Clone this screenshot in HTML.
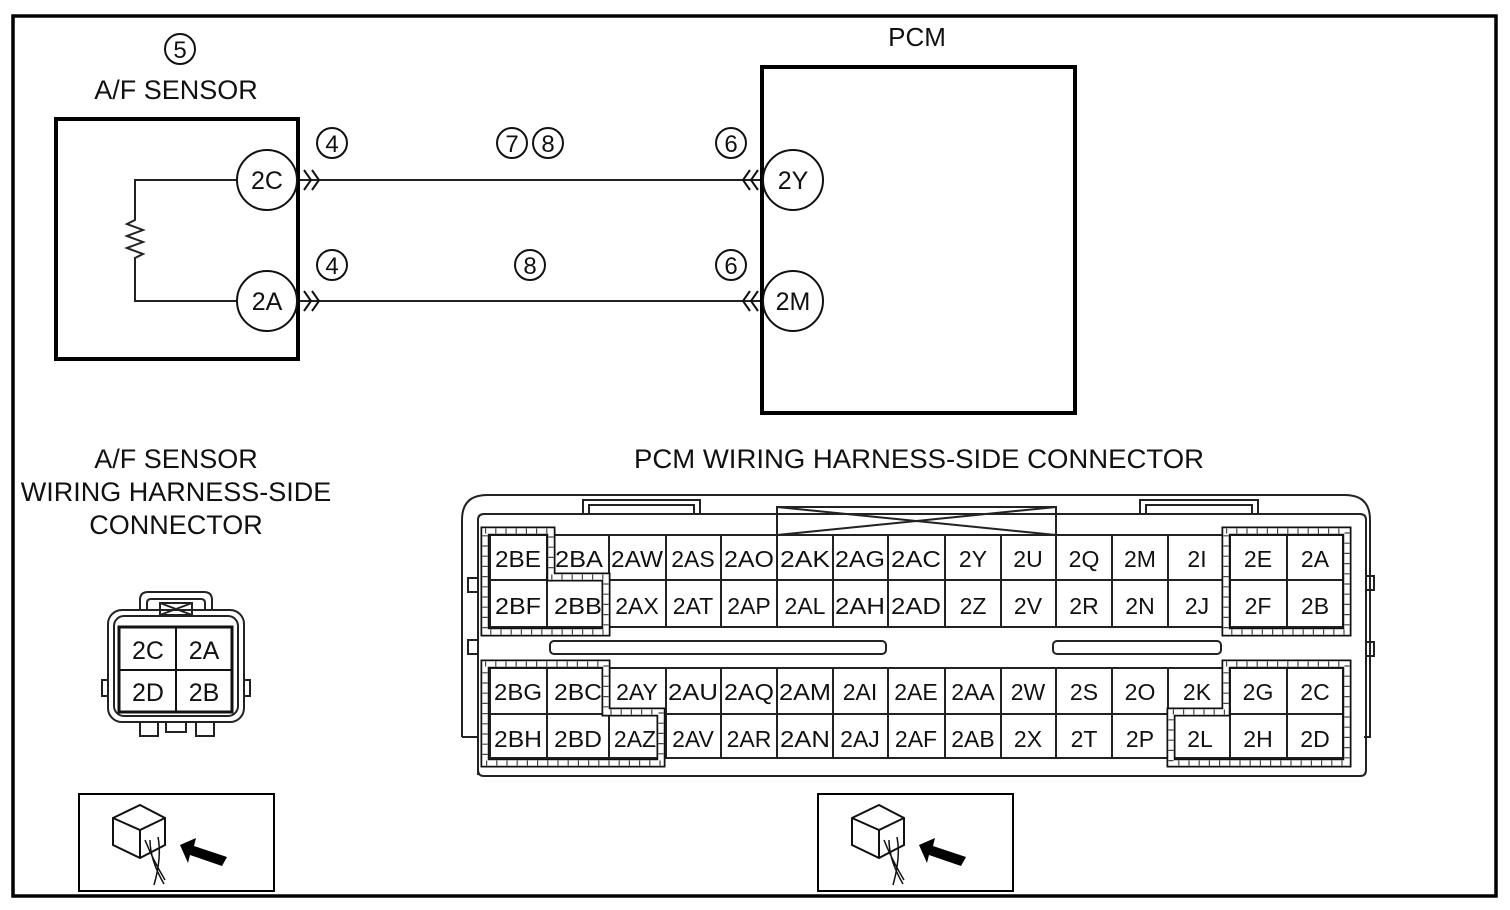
<!DOCTYPE html>
<html><head><meta charset="utf-8"><style>
html,body{margin:0;padding:0;background:#fff;}
svg{display:block;}
text{font-family:"Liberation Sans",sans-serif;fill:#111;}
</style></head><body>
<svg width="1510" height="910" viewBox="0 0 1510 910" xmlns="http://www.w3.org/2000/svg">
<rect x="13" y="16" width="1483" height="880" fill="none" stroke="#000" stroke-width="3.5"/>

<!-- A/F sensor -->
<circle cx="180" cy="49" r="15" fill="none" stroke="#111" stroke-width="2"/>
<text x="180" y="58" font-size="24" text-anchor="middle">5</text>
<text x="176" y="99" font-size="27" text-anchor="middle">A/F SENSOR</text>
<rect x="56" y="119" width="242" height="240" fill="none" stroke="#000" stroke-width="4"/>
<path d="M236 180 H135 V220 l-8 4 l16 6 l-16 6 l16 6 l-16 6 l16 6 l-8 4 V301 H236" fill="none" stroke="#222" stroke-width="2"/>
<circle cx="267" cy="180" r="30" fill="#fff" stroke="#111" stroke-width="2"/>
<text x="267" y="189" font-size="25" text-anchor="middle">2C</text>
<circle cx="267" cy="301" r="30" fill="#fff" stroke="#111" stroke-width="2"/>
<text x="267" y="310" font-size="25" text-anchor="middle">2A</text>

<!-- wires -->
<line x1="300" y1="180" x2="762" y2="180" stroke="#222" stroke-width="2"/>
<line x1="300" y1="301" x2="762" y2="301" stroke="#222" stroke-width="2"/>
<path d="M304 170 l7 10 l-7 10 M312 170 l7 10 l-7 10 M304 291 l7 10 l-7 10 M312 291 l7 10 l-7 10" fill="none" stroke="#111" stroke-width="2"/>
<path d="M758 170 l-7 10 l7 10 M750 170 l-7 10 l7 10 M758 291 l-7 10 l7 10 M750 291 l-7 10 l7 10" fill="none" stroke="#111" stroke-width="2"/>

<g fill="none" stroke="#111" stroke-width="2">
<circle cx="332" cy="143" r="15"/><circle cx="332" cy="265" r="15"/>
<circle cx="512" cy="143" r="15"/><circle cx="548" cy="143" r="15"/>
<circle cx="530" cy="265" r="15"/>
<circle cx="731" cy="143" r="15"/><circle cx="731" cy="265" r="15"/>
</g>
<g font-size="24" text-anchor="middle">
<text x="332" y="152">4</text><text x="332" y="274">4</text>
<text x="512" y="152">7</text><text x="548" y="152">8</text>
<text x="530" y="274">8</text>
<text x="731" y="152">6</text><text x="731" y="274">6</text>
</g>

<!-- PCM -->
<text x="917" y="46" font-size="26" text-anchor="middle">PCM</text>
<rect x="762" y="67" width="313" height="346" fill="none" stroke="#000" stroke-width="4"/>
<circle cx="793" cy="180" r="30" fill="#fff" stroke="#111" stroke-width="2"/>
<text x="793" y="189" font-size="25" text-anchor="middle">2Y</text>
<circle cx="793" cy="301" r="30" fill="#fff" stroke="#111" stroke-width="2"/>
<text x="793" y="310" font-size="25" text-anchor="middle">2M</text>

<!-- headings -->
<g font-size="27" text-anchor="middle">
<text x="176" y="468">A/F SENSOR</text>
<text x="176" y="501">WIRING HARNESS-SIDE</text>
<text x="176" y="534">CONNECTOR</text>
<text x="919" y="468" textLength="570" lengthAdjust="spacingAndGlyphs">PCM WIRING HARNESS-SIDE CONNECTOR</text>
</g>

<!-- small connector -->
<g fill="none" stroke="#222" stroke-width="2">
<path d="M140 610 V600 q0-8 8-8 H204 q8 0 8 8 V610"/>
<path d="M147 610 V603 q0-4 4-4 H201 q4 0 4 4 V610"/>
<rect x="108" y="610" width="136" height="112" rx="14"/>
<rect x="114" y="616" width="124" height="100" rx="10"/>
<path d="M108 680 h-6 v16 h6 M244 680 h6 v16 h-6"/>
<rect x="160" y="603" width="32" height="12"/>
<path d="M160 603 L192 615 M192 603 L160 615"/>
<path d="M140 722 v14 h18 v-14 M166 722 v10 h20 v-10 M196 722 v14 h18 v-14"/>
</g>
<rect x="119" y="627" width="113" height="85" fill="#fff" stroke="#111" stroke-width="3"/>
<line x1="176" y1="627" x2="176" y2="712" stroke="#111" stroke-width="2"/>
<line x1="119" y1="670" x2="232" y2="670" stroke="#111" stroke-width="2"/>
<g font-size="25" text-anchor="middle">
<text x="148" y="659">2C</text><text x="204" y="659">2A</text>
<text x="148" y="701">2D</text><text x="204" y="701">2B</text>
</g>

<!-- icon boxes -->
<g id="ic">
<rect x="79" y="794" width="195" height="97" fill="none" stroke="#000" stroke-width="2"/>
<path d="M113 818 L140 805 L165 818 L165 845 L140 858 L113 845 Z M113 818 L140 830 L165 818 M140 830 V858" fill="#fff" stroke="#111" stroke-width="2"/>
<path d="M145 840 q8 20 20 40 M150 840 q0 20 14 44 M158 837 q4 20 -4 48" fill="none" stroke="#111" stroke-width="1.5"/>
<path d="M180 845 L196 838 L194 846 L227 857 L222 866 L190 855 L188 863 Z" fill="#000"/>
</g>
<use href="#ic" x="739" y="0"/>

<!-- PCM connector housing -->
<g fill="none" stroke="#222" stroke-width="2">
<path d="M462 737 V520 q0-25 25-25 H1345 q25 0 25 25 V737 h-6"/>
<path d="M478 775 V520 q0-6 6-6 H1360 q6 0 6 6 V770 q0 6 -6 6 H484 q-6 0-6-6"/>
<path d="M462 737 h16"/>
<path d="M583 514 V500 H700 V514 M589 514 V505 H694 V514"/>
<path d="M1140 514 V500 H1258 V514 M1146 514 V505 H1252 V514"/>
<path d="M777 535 V507 H1056 V535 M777 507 L1056 535 M1056 507 L777 535"/>
<path d="M478 578 h-10 v14 h10 M478 640 h-10 v14 h10 M1366 576 h8 v14 h-8 M1366 642 h8 v14 h-8"/>
<rect x="550" y="641" width="336" height="13" rx="4"/>
<rect x="1053" y="641" width="168" height="13" rx="4"/>
</g>

<!-- grid -->
<g stroke="#222" stroke-width="2" fill="none">
<rect x="490" y="535" width="853" height="92"/>
<line x1="490" y1="580" x2="1343" y2="580"/>
<rect x="490" y="668" width="853" height="90"/>
<line x1="490" y1="714" x2="1343" y2="714"/>
<path d="M547 535V627 M609 535V627 M666 535V627 M721 535V627 M777 535V627 M833 535V627 M888 535V627 M945 535V627 M1001 535V627 M1056 535V627 M1112 535V627 M1168 535V627 M1230 535V627 M1287 535V627"/>
<path d="M547 668V758 M609 668V758 M666 668V758 M721 668V758 M777 668V758 M833 668V758 M888 668V758 M945 668V758 M1001 668V758 M1056 668V758 M1112 668V758 M1168 668V758 M1230 668V758 M1287 668V758"/>
</g>

<!-- hatched regions -->
<g fill="none" stroke-linejoin="miter">
<g stroke="#111" stroke-width="9">
<path d="M485 531 H551 V577 H606 V632 H485 Z"/>
<path d="M1226 531 H1347 V632 H1226 Z"/>
<path d="M485 664 H606 V712 H661 V763 H485 Z"/>
<path d="M1226 664 H1347 V763 H1171 V712 H1226 Z"/>
</g>
<g stroke="#fff" stroke-width="5.5">
<path d="M485 531 H551 V577 H606 V632 H485 Z"/>
<path d="M1226 531 H1347 V632 H1226 Z"/>
<path d="M485 664 H606 V712 H661 V763 H485 Z"/>
<path d="M1226 664 H1347 V763 H1171 V712 H1226 Z"/>
</g>
<g stroke="#444" stroke-width="5" stroke-dasharray="1.2 9">
<path d="M485 531 H551 V577 H606 V632 H485 Z"/>
<path d="M1226 531 H1347 V632 H1226 Z"/>
<path d="M485 664 H606 V712 H661 V763 H485 Z"/>
<path d="M1226 664 H1347 V763 H1171 V712 H1226 Z"/>
</g>
</g>

<!-- cell labels -->
<g font-size="23" text-anchor="middle">
<text x="518" y="567" textLength="46" lengthAdjust="spacingAndGlyphs">2BE</text><text x="579" y="567" textLength="48" lengthAdjust="spacingAndGlyphs">2BA</text><text x="637" y="567" textLength="52" lengthAdjust="spacingAndGlyphs">2AW</text><text x="693" y="567">2AS</text><text x="749" y="567" textLength="50" lengthAdjust="spacingAndGlyphs">2AO</text><text x="805" y="567" textLength="50" lengthAdjust="spacingAndGlyphs">2AK</text><text x="860" y="567" textLength="50" lengthAdjust="spacingAndGlyphs">2AG</text><text x="916" y="567" textLength="50" lengthAdjust="spacingAndGlyphs">2AC</text><text x="973" y="567">2Y</text><text x="1028" y="567">2U</text><text x="1084" y="567">2Q</text><text x="1140" y="567">2M</text><text x="1197" y="567">2I</text><text x="1258" y="567">2E</text><text x="1315" y="567">2A</text>
<text x="518" y="614" textLength="46" lengthAdjust="spacingAndGlyphs">2BF</text><text x="578" y="614" textLength="48" lengthAdjust="spacingAndGlyphs">2BB</text><text x="637" y="614">2AX</text><text x="693" y="614">2AT</text><text x="749" y="614">2AP</text><text x="805" y="614">2AL</text><text x="860" y="614" textLength="50" lengthAdjust="spacingAndGlyphs">2AH</text><text x="916" y="614" textLength="50" lengthAdjust="spacingAndGlyphs">2AD</text><text x="973" y="614">2Z</text><text x="1028" y="614">2V</text><text x="1084" y="614">2R</text><text x="1140" y="614">2N</text><text x="1197" y="614">2J</text><text x="1258" y="614">2F</text><text x="1315" y="614">2B</text>
<text x="518" y="700" textLength="48" lengthAdjust="spacingAndGlyphs">2BG</text><text x="578" y="700" textLength="48" lengthAdjust="spacingAndGlyphs">2BC</text><text x="637" y="700">2AY</text><text x="693" y="700" textLength="50" lengthAdjust="spacingAndGlyphs">2AU</text><text x="749" y="700" textLength="50" lengthAdjust="spacingAndGlyphs">2AQ</text><text x="805" y="700" textLength="52" lengthAdjust="spacingAndGlyphs">2AM</text><text x="860" y="700">2AI</text><text x="916" y="700">2AE</text><text x="973" y="700">2AA</text><text x="1028" y="700">2W</text><text x="1084" y="700">2S</text><text x="1140" y="700">2O</text><text x="1197" y="700">2K</text><text x="1258" y="700">2G</text><text x="1315" y="700">2C</text>
<text x="518" y="747" textLength="48" lengthAdjust="spacingAndGlyphs">2BH</text><text x="578" y="747" textLength="48" lengthAdjust="spacingAndGlyphs">2BD</text><text x="635" y="747">2AZ</text><text x="693" y="747">2AV</text><text x="749" y="747">2AR</text><text x="805" y="747" textLength="50" lengthAdjust="spacingAndGlyphs">2AN</text><text x="860" y="747">2AJ</text><text x="916" y="747">2AF</text><text x="973" y="747">2AB</text><text x="1028" y="747">2X</text><text x="1084" y="747">2T</text><text x="1140" y="747">2P</text><text x="1200" y="747">2L</text><text x="1258" y="747">2H</text><text x="1315" y="747">2D</text>
</g>
</svg>
</body></html>
